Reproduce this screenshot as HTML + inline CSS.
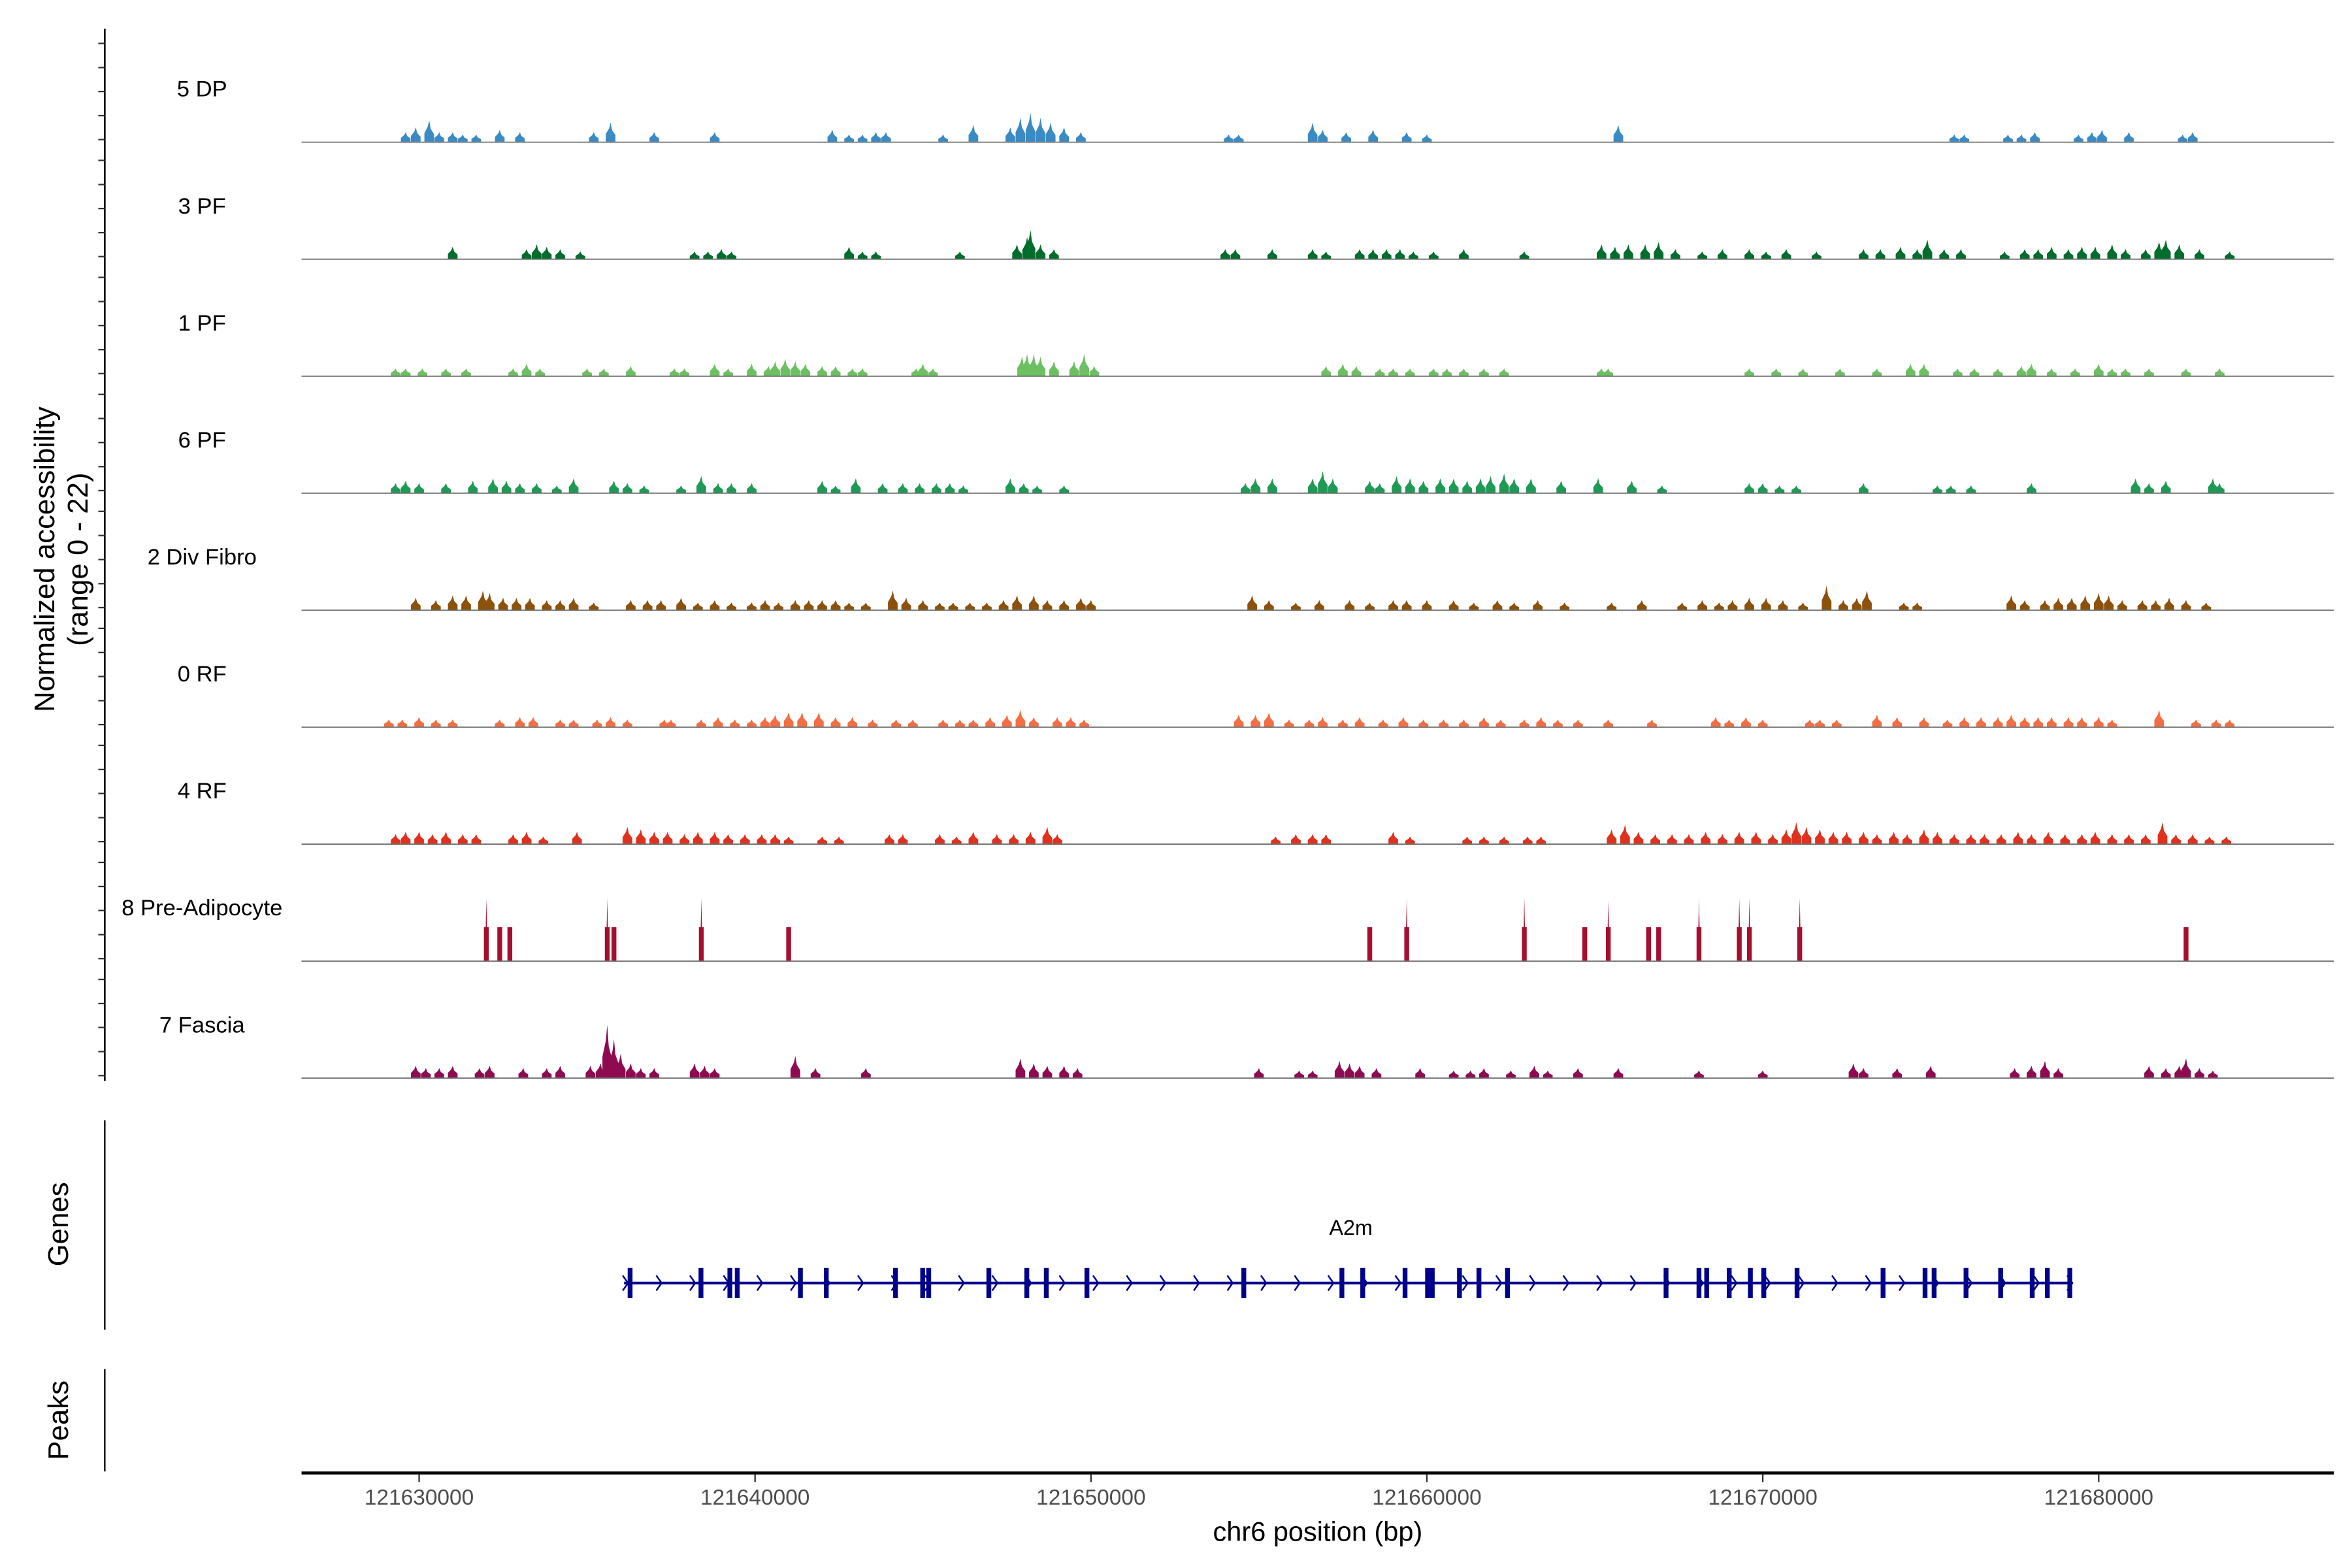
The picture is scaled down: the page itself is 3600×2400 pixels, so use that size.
<!DOCTYPE html>
<html><head><meta charset="utf-8"><style>
html,body{margin:0;padding:0;background:#fff;}
svg{display:block;font-family:"Liberation Sans",Arial,sans-serif;}
</style></head><body>
<svg id="chart" width="3600" height="2400" viewBox="0 0 1560 1040" xmlns="http://www.w3.org/2000/svg">
<rect x="0" y="0" width="1560" height="1040" fill="#fff"/>
<g id="tracks"></g>
<g id="yaxis"></g>
<text transform="translate(36,371) rotate(-90)" text-anchor="middle" font-size="19" fill="#000">Normalized accessibility</text>
<text transform="translate(58,371) rotate(-90)" text-anchor="middle" font-size="19" fill="#000">(range 0 - 22)</text>
<line x1="69.5" y1="743" x2="69.5" y2="882" stroke="#000" stroke-width="1"/>
<text transform="translate(45,812) rotate(-90)" text-anchor="middle" font-size="19" fill="#000">Genes</text>
<g id="genes"></g>
<text x="896" y="819" text-anchor="middle" font-size="14" fill="#000">A2m</text>
<line x1="69.5" y1="908" x2="69.5" y2="976" stroke="#000" stroke-width="1"/>
<text transform="translate(45,942) rotate(-90)" text-anchor="middle" font-size="19" fill="#000">Peaks</text>
<line x1="200" y1="977" x2="1548" y2="977" stroke="#000" stroke-width="2"/>
<g id="xaxis"></g>
<text x="874" y="1022" text-anchor="middle" font-size="18" fill="#000">chr6 position (bp)</text>
</svg>
<script>
// positions in kb (offset from 121600 kb), values in normalized accessibility units
const trackNames = ["5 DP","3 PF","1 PF","6 PF","2 Div Fibro","0 RF","4 RF","8 Pre-Adipocyte","7 Fascia"];
const trackColors = ["#3a8ac4","#006d2c","#6cc062","#1f9a55","#8c510a","#f46d43","#e0301e","#a50f2d","#8e0b52"];
const xTicks = [121630000,121640000,121650000,121660000,121670000,121680000];
const dp5 = [[29.6,2],[29.9,3],[30.3,4.5],[30.6,2],[31.0,2],[31.3,1.5],[31.7,1.5],[32.4,2.5],[33.0,2],[35.2,2],[35.7,4],[37.0,2],[38.8,2],[42.3,2.5],[42.8,1.5],[43.2,1.5],[43.6,2],[43.9,2],[45.6,1.5],[46.5,3.5],[47.6,3],[47.9,5],[48.2,6],[48.5,5],[48.8,4],[49.2,3],[49.7,2],[54.1,1.5],[54.4,1.5],[56.6,4],[56.9,2.5],[57.6,2],[58.4,2.5],[59.4,2],[60.0,1.5],[65.7,3.5],[75.7,1.5],[76.0,1.5],[77.3,1.5],[77.7,1.5],[78.1,2],[79.4,1.5],[79.8,2],[80.1,2.5],[80.9,2],[82.5,1.5],[82.8,2]];
const pf3 = [[31.0,2.5],[33.2,2],[33.5,3],[33.8,2.5],[34.2,2],[34.8,1.5],[38.2,1.5],[38.6,1.5],[39.0,2],[39.3,1.5],[42.8,2.5],[43.2,1.5],[43.6,1.5],[46.1,1.5],[47.8,3],[48.1,4.5],[48.2,6],[48.5,3],[48.9,2],[54.0,2],[54.3,2],[55.4,2],[56.6,2],[57.0,1.5],[58.0,2],[58.4,2],[58.8,2],[59.2,2],[59.6,1.5],[60.2,1.5],[61.1,2],[62.9,1.5],[65.2,3],[65.6,2.5],[66.0,3],[66.5,3],[66.9,3.5],[67.4,2],[68.2,1.5],[68.8,2],[69.6,2],[70.1,1.5],[70.7,2],[71.6,1.5],[73.0,2],[73.5,2],[74.1,2.5],[74.6,2],[74.9,4],[75.4,2],[75.9,2],[77.2,1.5],[77.8,2],[78.2,2],[78.6,2.5],[79.1,2],[79.5,2.5],[79.9,2.5],[80.4,3],[80.8,2],[81.4,2],[81.8,3.5],[82.0,4],[82.4,3],[83.0,2],[83.9,1.5]];
const pf1 = [[29.3,1.5],[29.6,1.5],[30.1,1.5],[30.8,1.5],[31.4,1.5],[32.8,1.5],[33.2,2.5],[33.6,1.5],[35.0,1.5],[35.5,1.5],[36.3,2],[37.6,1.5],[37.9,1.5],[38.8,2.5],[39.2,1.5],[39.9,2.5],[40.4,2],[40.6,3],[40.9,3.5],[41.2,3],[41.5,2.5],[42.0,2],[42.4,2],[42.9,1.5],[43.2,1.5],[44.8,1.5],[45.0,2.5],[45.3,1.5],[47.95,4],[48.1,4.5],[48.3,4.5],[48.5,4],[48.9,3],[49.5,3],[49.8,4.5],[50.1,2],[57.0,2],[57.5,2.5],[57.9,2],[58.6,1.5],[59.0,1.5],[59.5,1.5],[60.2,1.5],[60.6,1.5],[61.1,1.5],[61.7,1.5],[62.3,1.5],[65.2,1.5],[65.4,1.5],[69.6,1.5],[70.4,1.5],[71.2,1.5],[72.3,1.5],[73.4,1.5],[74.4,2.5],[74.8,2.5],[75.8,1.5],[76.3,1.5],[77.0,1.5],[77.7,2],[78.0,2.5],[78.6,1.5],[79.3,1.5],[80.0,2.5],[80.4,1.5],[80.8,1.5],[81.5,1.5],[82.6,1.5],[83.6,1.5]];
const pf6 = [[29.3,2],[29.6,2.5],[30.0,2],[30.8,2],[31.6,2.5],[32.2,3],[32.6,2.5],[33.0,2],[33.5,2],[34.1,1.5],[34.6,3],[35.8,2.5],[36.2,2],[36.7,1.5],[37.8,1.5],[38.4,3.5],[38.9,2],[39.3,2],[39.9,2],[42.0,2.5],[42.4,1.5],[43.0,3],[43.8,2],[44.4,2],[44.9,2],[45.4,2],[45.8,2],[46.2,1.5],[47.6,3],[48.0,2],[48.4,1.5],[49.2,1.5],[54.6,2],[54.9,3],[55.4,3],[56.6,3],[56.9,4.5],[57.2,3],[58.3,2.5],[58.6,2],[59.1,3.5],[59.5,3],[59.9,2.5],[60.4,3],[60.8,3],[61.2,2.5],[61.6,3],[61.9,3.5],[62.3,4],[62.6,3],[63.1,3],[64.0,2.5],[65.1,3],[66.1,2.5],[67.0,1.5],[69.6,2],[70.0,2],[70.5,1.5],[71.0,1.5],[73.0,2],[75.2,1.5],[75.6,1.5],[76.2,1.5],[78.0,2],[81.1,3],[81.5,2],[82.0,2.5],[83.4,3],[83.6,2]];
const dv2 = [[29.9,2.5],[30.5,2],[31.0,3],[31.4,3],[31.9,4],[32.1,3.5],[32.5,2.5],[32.9,2.5],[33.3,2.5],[33.8,2],[34.2,2],[34.6,2.5],[35.2,1.5],[36.3,2],[36.8,2],[37.2,2],[37.8,2.5],[38.3,1.5],[38.8,2],[39.3,1.5],[39.9,1.5],[40.3,2],[40.7,1.5],[41.2,2],[41.6,2],[42.0,2],[42.4,2],[42.8,1.5],[43.3,1.5],[44.1,4],[44.5,2.5],[45.0,2],[45.5,1.5],[45.9,1.5],[46.4,1.5],[46.9,1.5],[47.4,2],[47.8,3],[48.3,3],[48.7,2],[49.2,2],[49.7,2.5],[50.0,2],[54.8,3],[55.3,2],[56.1,1.5],[56.8,2],[57.7,2],[58.3,1.5],[59.0,2],[59.4,2],[60.0,2],[60.8,2],[61.4,1.5],[62.1,2],[62.6,1.5],[63.3,2],[64.1,1.5],[65.5,1.5],[66.4,2],[67.6,1.5],[68.2,2],[68.7,1.5],[69.1,2],[69.6,2.5],[70.1,2.5],[70.6,2],[71.2,1.5],[71.9,5],[72.4,2],[72.8,2.5],[73.1,4],[74.2,1.5],[74.6,1.5],[77.4,3],[77.8,2],[78.4,2],[78.8,2.5],[79.2,2.5],[79.6,3],[80.0,3.5],[80.3,3],[80.7,2],[81.3,2],[81.7,2],[82.1,2.5],[82.6,2],[83.2,1.5]];
const rf0 = [[29.1,1.5],[29.5,1.5],[30.0,2],[30.5,1.5],[31.0,1.5],[32.4,1.5],[33.0,2],[33.4,2],[34.2,1.5],[34.6,1.5],[35.3,1.5],[35.7,2],[36.2,1.5],[37.3,1.5],[37.5,1.5],[38.4,1.5],[38.9,2],[39.4,1.5],[39.9,1.5],[40.3,2],[40.6,2.5],[41.0,3],[41.4,3],[41.9,3],[42.4,2],[42.9,2],[43.5,1.5],[44.2,1.5],[44.7,1.5],[45.6,1.5],[46.1,1.5],[46.5,1.5],[47.0,2],[47.5,2.5],[47.9,3.5],[48.3,2],[49.0,2],[49.4,2],[49.8,1.5],[54.4,2.5],[54.9,2.5],[55.3,3],[55.9,1.5],[56.5,1.5],[56.9,2],[57.5,1.5],[58.0,2],[58.7,1.5],[59.3,2],[59.9,1.5],[60.5,1.5],[61.1,1.5],[61.7,2],[62.2,1.5],[62.9,1.5],[63.4,2],[63.9,1.5],[64.5,1.5],[65.4,1.5],[66.7,1.5],[68.6,2],[69.0,1.5],[69.5,2],[70.0,1.5],[71.4,1.5],[71.7,1.5],[72.2,1.5],[73.4,2.5],[74.0,2],[74.8,2],[75.5,1.5],[76.0,2],[76.5,2],[77.0,2],[77.4,2.5],[77.8,2],[78.2,2],[78.6,2],[79.1,2],[79.5,2],[80.0,2],[80.4,1.5],[81.8,3.5],[82.9,1.5],[83.5,1.5],[83.9,1.5]];
const rf4 = [[29.3,2],[29.6,2.5],[30.0,2.5],[30.4,2],[30.8,2.5],[31.3,2],[31.7,2],[32.8,2],[33.2,2.5],[33.7,1.5],[34.7,2.5],[36.2,3.5],[36.6,3],[37.0,2.5],[37.4,2.5],[37.9,2],[38.3,2.5],[38.8,2.5],[39.2,2],[39.7,2],[40.2,2],[40.6,2],[41.0,1.5],[42.0,1.5],[42.5,1.5],[44.0,2],[44.4,2],[45.5,2],[46.0,1.5],[46.5,2.5],[47.2,2],[47.7,2],[48.2,2.5],[48.7,3.5],[49.0,2],[55.5,1.5],[56.1,2],[56.6,2],[57.0,2],[59.0,2.5],[59.5,1.5],[61.2,1.5],[61.7,1.5],[62.3,1.5],[63.0,1.5],[63.4,1.5],[65.5,3],[65.9,4],[66.3,2.5],[66.8,2],[67.3,2],[67.8,2],[68.3,2.5],[68.8,2],[69.3,2.5],[69.8,2.5],[70.3,2],[70.7,3],[71.0,4.5],[71.3,3.5],[71.7,3],[72.1,2.5],[72.5,2.5],[73.0,2.5],[73.4,2],[73.9,2.5],[74.3,2],[74.8,3],[75.2,2.5],[75.7,2],[76.2,2],[76.6,2],[77.1,2],[77.6,2.5],[78.0,2],[78.5,2.5],[79.0,2],[79.5,2],[79.9,2.5],[80.4,2],[80.9,2],[81.4,2],[81.9,4.5],[82.3,2],[82.8,2],[83.3,1.5],[83.8,1.5]];
const pre8 = [[32.0,13],[32.4,7],[32.7,7],[35.6,13],[35.8,7],[38.4,13],[41.0,7],[58.3,7],[59.4,13],[62.9,13],[64.7,7],[65.4,12.5],[66.6,7],[66.9,7],[68.1,13],[69.3,13],[69.6,13],[71.1,13],[82.6,7]];
const fas7 = [[29.9,2.5],[30.2,2],[30.6,2],[31.0,2.5],[31.8,2],[32.1,2.5],[33.1,2],[33.8,2],[34.2,2.5],[35.1,2.5],[35.4,3],[35.6,11],[35.8,8],[36.0,5],[36.3,3],[36.6,2],[37.0,2],[38.2,3],[38.5,2.5],[38.8,2],[41.2,4.5],[41.8,2],[43.3,2],[47.9,4],[48.3,3],[48.7,2.5],[49.2,2.5],[49.6,2],[55.0,2],[56.2,1.5],[56.6,1.5],[57.4,3.5],[57.7,3],[58.0,2.5],[58.5,2],[59.8,2],[60.8,1.5],[61.3,1.5],[61.7,2],[62.5,1.5],[63.2,2.5],[63.6,1.5],[64.5,2],[65.7,2],[68.1,1.5],[70.0,1.5],[72.7,3],[73.0,2],[74.0,2],[75.0,2.5],[77.5,2],[78.0,2.5],[78.4,3.5],[78.8,2],[81.5,2.5],[82.0,2],[82.4,2.5],[82.6,4],[83.0,2],[83.4,1.5]];
const trackData = [dp5,pf3,pf1,pf6,dv2,rf0,rf4,pre8,fas7];
const exonStarts = [36.28,38.39,39.25,39.47,41.35,42.12,44.18,44.99,45.17,46.96,48.09,48.67,49.88,54.55,57.47,58.09,59.35,60.02,60.16,60.97,61.55,62.40,67.12,68.10,68.33,69.00,69.63,70.03,71.02,73.58,74.83,75.10,76.05,77.08,78.02,78.47,79.14];
const geneStart = 36.1, geneEnd = 79.2;

const NS="http://www.w3.org/2000/svg";
const X0=200, X1=1547;
function xScale(kb){ return 278 + (kb-30)*22.28; }
const STEP=77.6;
function baseline(i){ return 94 + i*STEP; }
const YPX = 70/22;
function yScale(v){ return v*YPX; }
function mk(tag, attrs, parent){ const e=document.createElementNS(NS,tag); for(const k in attrs) e.setAttribute(k,attrs[k]); parent.appendChild(e); return e; }

const tracks=document.getElementById('tracks');
trackNames.forEach((name,i)=>{
  const g=mk('g',{},tracks);
  
  
  const b=baseline(i);
  const lab=mk('text',{x:134,y:b-30,'text-anchor':'middle','font-size':15,fill:'#000'},g);
  lab.textContent=name;
  
  
  trackData[i].forEach(p=>{
    const x=xScale(p[0]); const h=yScale(p[1]);
    let pts;
    if(i===7){
      const w=1.6; const hb=yScale(Math.min(p[1],7));
      pts=[[x-w,b],[x-w,b-hb],[x-0.4,b-hb],[x,b-h],[x+0.4,b-hb],[x+w,b-hb],[x+w,b]];
    } else {
      const w=3.2;
      pts=[[x-w,b],[x-w,b-h*0.4],[x-w*0.3,b-h*0.7],[x,b-h],[x+w*0.3,b-h*0.6],[x+w,b-h*0.35],[x+w,b]];
    }
    const el=mk('polygon',{points:pts.map(q=>q[0].toFixed(2)+','+q[1].toFixed(2)).join(' '),fill:trackColors[i]},g);
    
    
  });
  const bl=mk('line',{x1:X0,x2:X1+1,y1:b+0.3,y2:b+0.3,stroke:'#6e6e6e','stroke-width':0.8},g);
  
  
});

const ya=document.getElementById('yaxis');
const al=mk('line',{x1:69.5,x2:69.5,y1:19,y2:717,stroke:'#000','stroke-width':1.1},ya);


for(let i=0;i<trackNames.length;i++){
  const b=baseline(i);
  [1.4,17.3,33.3,49.2,65.2].forEach(o=>{
    const y=b-o;
    const t=mk('line',{x1:65.2,x2:69.5,y1:y,y2:y,stroke:'#333','stroke-width':1},ya);
    
    
  });
}

const gg=document.getElementById('genes');
const GY=851;
const gl=mk('line',{x1:xScale(geneStart),x2:xScale(geneEnd),y1:GY,y2:GY,stroke:'#00008b','stroke-width':1.8},gg);


for(let k=geneStart+0.05;k<geneEnd;k+=1.0){
  const x=xScale(k);
  const c=mk('polyline',{points:`${x-2},${GY-5} ${x+1.5},${GY} ${x-2},${GY+5}`,fill:'none',stroke:'#00008b','stroke-width':1.1},gg);
  
  
}
exonStarts.forEach(e=>{
  const x=xScale(e);
  const r=mk('rect',{x:x-1.6,y:GY-10,width:3.2,height:20,fill:'#00008b'},gg);
  
  
});

const xa=document.getElementById('xaxis');
xTicks.forEach(v=>{
  const x=xScale((v-121600000)/1000);
  const t=mk('line',{x1:x,x2:x,y1:978,y2:983,stroke:'#333','stroke-width':1},xa);
  
  
  const l=mk('text',{x:x,y:998,'text-anchor':'middle','font-size':14.5,fill:'#4d4d4d'},xa);
  l.textContent=String(v);
  
  
});
</script>
</body></html>
